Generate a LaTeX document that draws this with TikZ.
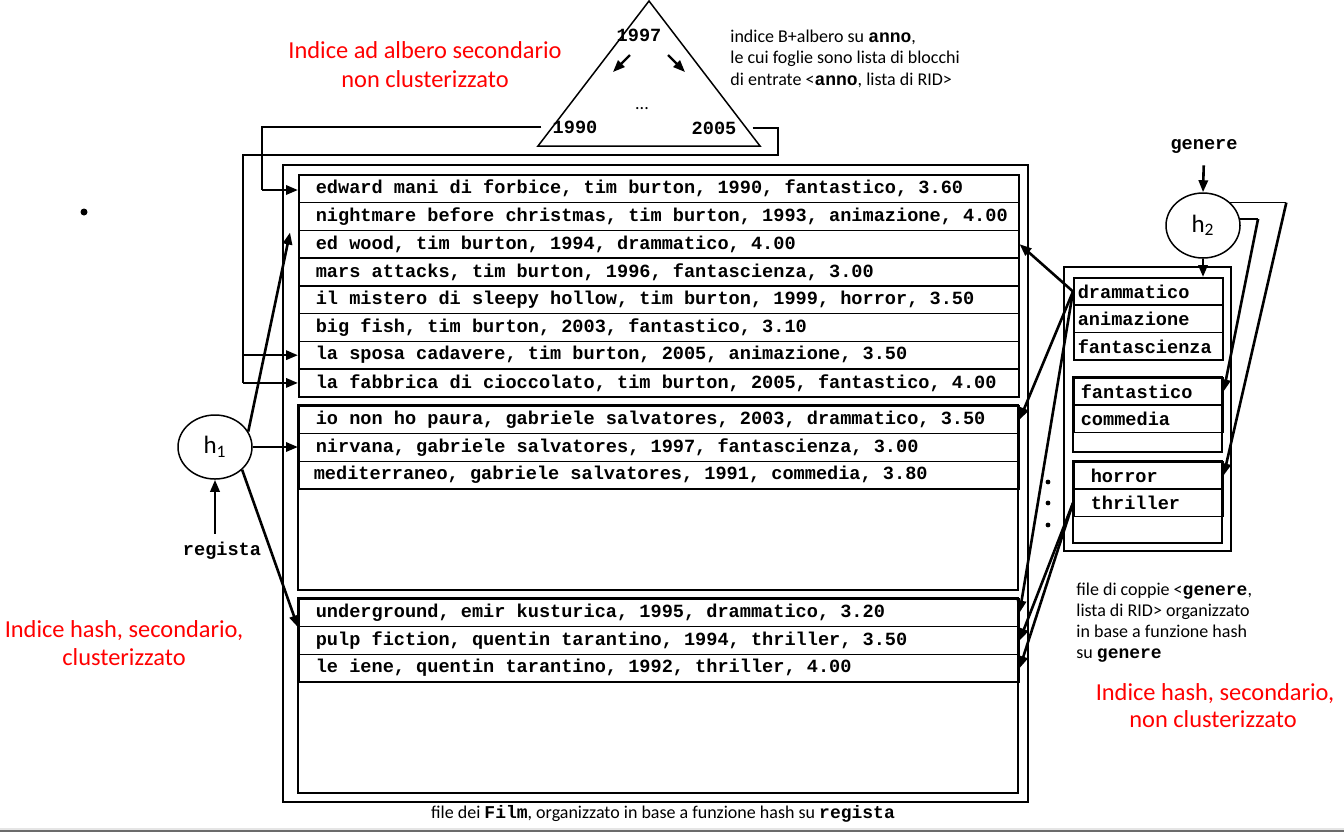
\documentclass[tikz,border=0pt]{standalone}
\usepackage{fontspec}
\setmainfont{Carlito}
\setmonofont{Liberation Mono}
\usetikzlibrary{arrows.meta,shapes.geometric}
\newcommand\rowf{\fontsize{9.3}{11}\selectfont\ttfamily\bfseries}
\newcommand\rt[1]{\spaceskip=0pt\xspaceskip=0pt\relax\mbox{#1}}
\newcommand\smallf{\fontsize{9}{11}\selectfont}
\newcommand\redf{\fontsize{12.2}{14.5}\selectfont}
\newcommand\mb[1]{{\ttfamily\bfseries #1}}
\begin{document}
\begin{tikzpicture}[x=0.5pt,y=-0.5pt,
  frame/.style={draw, line width=0.75pt},
  row/.style={draw, line width=0.8pt, anchor=north west, minimum height=13.875pt, text width=343pt, inner xsep=8.5pt, inner ysep=0pt, align=left, font=\rowf},
  genrow/.style={draw, line width=0.8pt, anchor=north west, minimum height=13.7pt, text width=70.5pt, inner xsep=2pt, inner ysep=0pt, align=left, font=\rowf},
  arr/.style={-{Triangle[length=6pt,width=4.6pt]}, line width=1.3pt},
  link/.style={line width=0.75pt},
  lab/.style={font=\rowf, inner sep=1pt},
  redt/.style={font=\redf, text=red, inner sep=0pt, anchor=base},
  smallt/.style={font=\smallf, inner sep=0pt, anchor=base west},
  hashf/.style={ellipse, draw, line width=0.75pt, minimum width=37pt, minimum height=32pt, inner sep=0pt, font=\fontsize{12.5}{14}\selectfont}]
\useasboundingbox (0,0) rectangle (1344,832);
\fill[black!10] (0,828) rectangle (1344,830);
\fill[black!58] (0,830) rectangle (1344,832);

% film file
\draw[frame] (283,165) rectangle (1028,802);
\node[row] (f1) at (298,174) {\rt{edward mani di forbice, tim burton, 1990, fantastico, 3.60}};
\node[row] (f2) at (298,201.75) {\rt{nightmare before christmas, tim burton, 1993, animazione, 4.00}};
\node[row] (f3) at (298,229.5) {\rt{ed wood, tim burton, 1994, drammatico, 4.00}};
\node[row] (f4) at (298,257.25) {\rt{mars attacks, tim burton, 1996, fantascienza, 3.00}};
\node[row] (f5) at (298,285) {\rt{il mistero di sleepy hollow, tim burton, 1999, horror, 3.50}};
\node[row] (f6) at (298,312.75) {\rt{big fish, tim burton, 2003, fantastico, 3.10}};
\node[row] (f7) at (298,340.5) {\rt{la sposa cadavere, tim burton, 2005, animazione, 3.50}};
\node[row] (f8) at (298,368.25) {\rt{la fabbrica di cioccolato, tim burton, 2005, fantastico, 4.00}};
\draw[frame, line width=0.8pt] (298,405) rectangle (1018,590);
\node[row] (f9) at (298,405) {\rt{io non ho paura, gabriele salvatores, 2003, drammatico, 3.50}};
\node[row] (f10) at (298,432.75) {\rt{nirvana, gabriele salvatores, 1997, fantascienza, 3.00}};
\node[row] (f11) at (298,460.5) {\hspace*{-1pt}\rt{mediterraneo, gabriele salvatores, 1991, commedia, 3.80}};
\draw[frame, line width=0.8pt] (298,598) rectangle (1018,793);
\node[row] (f13) at (298,598) {\rt{underground, emir kusturica, 1995, drammatico, 3.20}};
\node[row] (f14) at (298,625.75) {\rt{pulp fiction, quentin tarantino, 1994, thriller, 3.50}};
\node[row] (f15) at (298,653.5) {\rt{le iene, quentin tarantino, 1992, thriller, 4.00}};

% genere hash file
\draw[frame] (1064,267) rectangle (1231,551);
\node[genrow] (g1) at (1073,277) {drammatico};
\node[genrow] (g2) at (1073,304.4) {animazione};
\node[genrow] (g3) at (1073,331.8) {fantascienza};
\draw[frame, line width=0.8pt] (1073,377) rectangle (1222,452);
\node[genrow] (g4) at (1073,377) {\hspace*{1.5pt}fantastico};
\node[genrow] (g5) at (1073,404.4) {\hspace*{1.5pt}commedia};
\draw[frame, line width=0.8pt] (1073,461) rectangle (1222,543);
\node[genrow] (g7) at (1073,461) {\hspace*{6.5pt}horror};
\node[genrow] (g8) at (1073,488.4) {\hspace*{6.5pt}thriller};
\fill (1048,482) circle (1.2pt);
\fill (1048,503) circle (1.2pt);
\fill (1048,525) circle (1.2pt);

% B+ tree
\coordinate (tA) at (649,1);
\coordinate (tL) at (538,146);
\coordinate (tR) at (760,146);
\draw[link] (tA) -- (tL) -- (tR) -- cycle;
\node[lab] (y1997) at (639,35) {1997};
\node[lab] (y1990) at (575,127) {1990};
\node[lab] (y2005) at (714,128) {2005};
\node[font=\smallf, inner sep=0pt] (tdots) at (642,109) {...};
\coordinate (a1s) at (630,55);
\coordinate (a1e) at (613,72);
\coordinate (a2s) at (668,55);
\coordinate (a2e) at (685,72);
\draw[arr, line width=1.1pt] (a1s) -- (a1e);
\draw[arr, line width=1.1pt] (a2s) -- (a2e);

\coordinate (s1990) at ([xshift=-4.5pt]y1990.west);
\coordinate (s2005) at ([xshift=7pt]y2005.east);
\coordinate (c1) at (262,190);
\draw[link] (s1990) -- (s1990 -| c1) -- (c1);
\draw[arr] (c1) -- (c1 -| f1.west);
\coordinate (c2) at (778,155);
\coordinate (c3) at (243,155);
\draw[link] (s2005) -- (s2005 -| c2) -- (c2) -- (c3) -- (c3 |- f8.west);
\draw[arr] (c3 |- f7.west) -- (f7.west);
\draw[arr] (c3 |- f8.west) -- (f8.west);

% h1
\node[hashf] (h1) at (215,447) {h\textsubscript{1}};
\node[lab] (reg) at (222,551) {regista};
\draw[arr] (h1.south |- reg.north) ++(0,-6) -- (h1.south);
\draw[arr] (h1.25) -- ([shift={(-8,3)}]f3.north west);
\draw[arr] (h1.east) -- (h1.east -| f10.west);
\draw[arr] (h1.-40) -- (f13.south west);

% h2
\node[hashf, minimum height=32.5pt] (h2) at (1203,225.5) {h\textsubscript{2}};
\node[lab] (gen) at (1204,146) {genere};
\draw[arr, shorten <=5pt] (gen.south) -- (h2.north);
\draw[arr] (h2.south) -- (h2.south |- g1.north);
\draw[link] (h2.10) -- ++(18,0) coordinate (c4);
\draw[arr] (c4) -- (g4.east);
\draw[link] (h2.40) -- ++(56,0) coordinate (c5);
\draw[arr] (c5) -- (g7.east);
\draw[arr] (g1.west) -- (f3.east);
\draw[arr] (g1.west) -- (f9.east);
\draw[arr] (g1.west) -- (f13.east);
\draw[arr] (g8.west) -- (f14.east);
\draw[arr] (g8.west) -- (f15.east);

% bullet
\fill (84,212) circle (1.75pt);

% texts
\node[redt] (r1a) at (425,58) {Indice ad albero secondario};
\node[redt] (r1b) at (425,87) {non clusterizzato};
\node[redt] (r2a) at (124,637) {Indice hash, secondario,};
\node[redt] (r2b) at (124,665) {clusterizzato};
\node[redt] (r3a) at (1215,700) {Indice hash, secondario,};
\node[redt] (r3b) at (1213,727) {non clusterizzato};
\node[smallt] (s1a) at (730,42) {indice B+albero su \mb{anno},};
\node[smallt] (s1b) at (730,63.5) {le cui foglie sono lista di blocchi};
\node[smallt] (s1c) at (730,85) {di entrate <\mb{anno}, lista di RID>};
\node[smallt] (s2a) at (1076,595) {file di coppie <\mb{genere},};
\node[smallt] (s2b) at (1076,616.5) {lista di RID> organizzato};
\node[smallt] (s2c) at (1076,637) {in base a funzione hash};
\node[smallt] (s2d) at (1076,658) {su \mb{genere}};
\node[smallt, anchor=base] (cap) at (663,818) {file dei \mb{Film}, organizzato in base a funzione hash su \mb{regista}};
\end{tikzpicture}
\end{document}
